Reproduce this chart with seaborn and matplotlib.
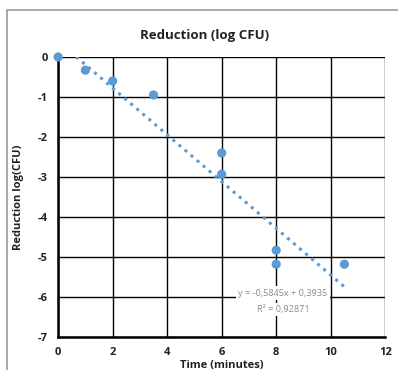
import numpy as np
import pandas as pd
import matplotlib
matplotlib.use("Agg")
import matplotlib.pyplot as plt
from matplotlib.patches import Rectangle
import seaborn as sns

# --- Datos ---
tiempo = [0, 1, 2, 3.5, 6, 6, 8, 8, 10.5]
reduccion = [0, -0.33, -0.6, -0.95, -2.4, -2.93, -4.83, -5.18, -5.18]
pendiente = -0.5845
intercepto = 0.3935
r2_texto = "0,92871"

x_ticks = [0, 2, 4, 6, 8, 10, 12]
y_ticks = [0, -1, -2, -3, -4, -5, -6, -7]

azul = "#5B9BD5"

sns.set_style("white")
plt.rcParams["font.family"] = ["Open Sans", "DejaVu Sans"]

df = pd.DataFrame({"tiempo": tiempo, "reduccion": reduccion})
x_linea = np.array([min(tiempo), max(tiempo)])
df_linea = pd.DataFrame({"x": x_linea, "y": pendiente * x_linea + intercepto})

fig = plt.figure(figsize=(3.98, 3.70), dpi=100)
ax = fig.add_axes([0.146, 0.089, 0.822, 0.757])

# marco exterior del gráfico
fig.patches.append(Rectangle((0.018, -0.01), 1.0, 0.983, transform=fig.transFigure,
                             fill=False, edgecolor="#9a9a9a", linewidth=1.2))

sns.lineplot(data=df_linea, x="x", y="y", ax=ax, color=azul, linestyle=(0, (1, 1.6)),
             linewidth=2.2, zorder=2)
sns.scatterplot(data=df, x="tiempo", y="reduccion", ax=ax, color=azul, s=44,
                edgecolor="none", zorder=4, clip_on=False)

ax.set_xlim(0, 12)
ax.set_ylim(-7, 0)
ax.set_xticks(x_ticks)
ax.set_yticks(y_ticks)
ax.set_xticklabels([str(t) for t in x_ticks], fontsize=8, fontweight="bold", color="#222222")
ax.set_yticklabels([str(t) for t in y_ticks], fontsize=8, fontweight="bold", color="#222222")
ax.grid(True, color="black", linewidth=1.0, zorder=1)
ax.set_axisbelow(True)
for lado in ["top", "right"]:
    ax.spines[lado].set_visible(False)
for lado in ["left", "bottom"]:
    ax.spines[lado].set_color("black")
    ax.spines[lado].set_linewidth(1.8)
ax.tick_params(axis="both", direction="inout", length=7, width=1.6, color="black", pad=4)

fig.text(0.515, 0.905, "Reduction (log CFU)", fontsize=9.5, fontweight="bold",
         color="#222222", ha="center", va="center")
ax.set_xlabel("Time (minutes)", fontsize=8, fontweight="bold", labelpad=1, color="#222222")
ax.set_ylabel("Reduction log(CFU)", fontsize=8, fontweight="bold", labelpad=10, color="#222222")

ax.text(8.25, -5.9, "y = -0,5845x + 0,3935", fontsize=6.6, color="#8c8c8c", ha="center",
        va="center", zorder=5, bbox=dict(facecolor="white", edgecolor="none", pad=1.5))
ax.text(8.25, -6.32, "R² = " + r2_texto, fontsize=6.6, color="#8c8c8c", ha="center",
        va="center", zorder=5, bbox=dict(facecolor="white", edgecolor="none", pad=1.5))

fig.savefig("out.png", dpi=100)
